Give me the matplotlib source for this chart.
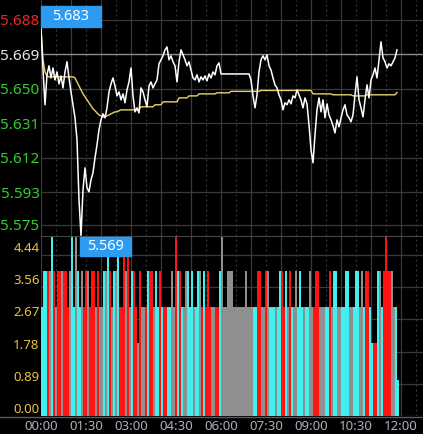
import matplotlib
matplotlib.use("Agg")
import matplotlib.pyplot as plt
import numpy as np
from matplotlib.lines import Line2D
from matplotlib.patches import Rectangle

# ---------------- data ----------------
step_min = 4  # minutes between samples
price = [5.683, 5.6604, 5.6412, 5.6577, 5.6627, 5.6560, 5.6615, 5.6549, 5.6593, 5.6527,
         5.6571, 5.6505, 5.6593, 5.6649, 5.6560, 5.6483, 5.6412, 5.6340, 5.6219, 5.5888,
         5.569, 5.5943, 5.6064, 5.5954, 5.5932, 5.5998, 5.6037, 5.6119, 5.6191, 5.6274,
         5.6329, 5.6362, 5.6340, 5.6395, 5.6483, 5.6527, 5.6560, 5.6516, 5.6461, 5.6483,
         5.6439, 5.6472, 5.6423, 5.6494, 5.6538, 5.6615, 5.6461, 5.6373, 5.6395, 5.6367,
         5.6505, 5.6483, 5.6439, 5.6401, 5.6516, 5.6538, 5.6505, 5.6527, 5.6549, 5.6638,
         5.6660, 5.6682, 5.6715, 5.6731, 5.6660, 5.6682, 5.6649, 5.6627, 5.6538, 5.6649,
         5.6715, 5.6687, 5.6660, 5.6627, 5.6649, 5.6604, 5.6560, 5.6549, 5.6577, 5.6538,
         5.6566, 5.6549, 5.6571, 5.6544, 5.6582, 5.6560, 5.6593, 5.6577, 5.6627, 5.6643,
         5.6582, 5.6582, 5.6582, 5.6582, 5.6582, 5.6582, 5.6582, 5.6582, 5.6582, 5.6582,
         5.6582, 5.6582, 5.6582, 5.6582, 5.6582, 5.6549, 5.6461, 5.6395, 5.6467, 5.6593,
         5.6660, 5.6682, 5.6660, 5.6687, 5.6627, 5.6604, 5.6560, 5.6522, 5.6505, 5.6467,
         5.6439, 5.6384, 5.6423, 5.6412, 5.6439, 5.6417, 5.6461, 5.6450, 5.6494, 5.6467,
         5.6439, 5.6395, 5.6450, 5.6417, 5.6301, 5.6164, 5.6092, 5.6246, 5.6384, 5.6450,
         5.6373, 5.6439, 5.6340, 5.6417, 5.6356, 5.6329, 5.6296, 5.6257, 5.6329, 5.6290,
         5.6340, 5.6384, 5.6412, 5.6356, 5.6340, 5.6318, 5.6356, 5.6467, 5.6566, 5.6439,
         5.6395, 5.6345, 5.6439, 5.6522, 5.6450, 5.6549, 5.6577, 5.6615, 5.6560, 5.6660,
         5.6759, 5.6671, 5.6649, 5.6615, 5.6638, 5.6627, 5.6649, 5.6671, 5.6715]

avg_price = ([5.683, 5.6660, 5.6593, 5.6571] + [5.6566] * 13 +
             [5.6560, 5.6538, 5.6516, 5.6494, 5.6472, 5.6456, 5.6439, 5.6423, 5.6406,
              5.6390, 5.6379, 5.6367, 5.6356, 5.6351, 5.6345, 5.6345, 5.6351, 5.6356,
              5.6362, 5.6367, 5.6373, 5.6373, 5.6379] +
             [5.6384] * 10 + [5.6401] * 7 + [5.6412] * 4 + [5.6428] * 8 +
             [5.6450] * 5 + [5.6461] * 5 + [5.6472] * 9 + [5.6478] * 7 +
             [5.6486] * 15 + [5.6491] * 26 + [5.6472] * 10 + [5.6467] * 10 +
             [5.6461] * 7 + [5.6467] * 15 + [5.6480])

volume = [3, 4, 4, 4, 4, 5, 4, 3, 4, 4,
          4, 4, 4, 3, 4, 5, 3, 5, 4, 3,
          4, 3, 4, 4, 3, 4, 4, 3, 4, 3,
          3, 4, 4, 5, 4, 3, 4, 4, 5, 3,
          3, 5, 4, 5, 3, 4, 4, 3, 2, 4,
          3, 3, 3, 4, 4, 4, 3, 4, 3, 4,
          3, 3, 3, 3, 3, 4, 3, 5, 4, 4,
          3, 3, 4, 4, 3, 4, 3, 3, 4, 4,
          3, 4, 3, 4, 3, 3, 3, 3, 3, 4,
          5, 3, 3, 4, 4, 4, 3, 3, 3, 3,
          3, 3, 4, 3, 3, 3, 3, 3, 4, 4,
          3, 3, 4, 4, 3, 3, 3, 3, 3, 4,
          4, 3, 4, 3, 4, 3, 3, 4, 3, 4,
          3, 3, 3, 3, 4, 3, 3, 4, 4, 3,
          3, 3, 3, 3, 4, 3, 4, 4, 3, 3,
          3, 3, 4, 4, 3, 3, 3, 4, 4, 3,
          4, 3, 4, 4, 3, 2, 2, 2, 4, 4,
          3, 4, 5, 4, 4, 4, 3, 3, 1]
# r = up, c = down, g = flat
vol_dir = ("cccrgcrgrr" "grrrgccgcc" "grrgrrrgrg" "gcgcrgcgcr" "rrgrgcrrgr"
           "ggrcrrgccr" "crrccggrcr" "cggcccgccg" "rcrrrggrrc" "gggggggggg"
           "ggggggccrr" "ggrgcccgcc" "rrcgrcggcc" "cgccggrrrg" "ggccrgccgg"
           "ccccggcccg" "gcrrccrrcg" "crrrrggcc")

price_ticks = [5.688, 5.669, 5.650, 5.631, 5.612, 5.593, 5.575]
price_tick_labels = ["5.688", "5.669", "5.650", "5.631", "5.612", "5.593", "5.575"]
prev_close = 5.669
vol_ticks = [0.0, 0.888, 1.776, 2.664, 3.552, 4.44]
vol_tick_labels = ["0.00", "0.89", "1.78", "2.67", "3.56", "4.44"]
time_ticks = [0, 90, 180, 270, 360, 450, 540, 630, 720]
time_labels = ["00:00", "01:30", "03:00", "04:30", "06:00", "07:30", "09:00", "10:30", "12:00"]

# ---------------- figure ----------------
W, H = 423, 434
plt.rcParams["font.family"] = ["Noto Sans", "DejaVu Sans"]
fig = plt.figure(figsize=(W / 100, H / 100), dpi=100, facecolor="black")


def rect(x0, y0, x1, y1):
    return [x0 / W, 1 - y1 / H, (x1 - x0) / W, (y1 - y0) / H]


ax1 = fig.add_axes(rect(41, 0, 423, 236))
ax2 = fig.add_axes(rect(41, 236, 423, 416))
for ax in (ax1, ax2):
    ax.set_facecolor("black")
    for s in ax.spines.values():
        s.set_visible(False)
    ax.set_xlim(0, 764)

t = np.arange(len(price)) * step_min
GRID = "#3a3a3a"

# vertical grid (solid each hour, dotted each half hour)
for m in range(0, 780, 30):
    for ax in (ax1, ax2):
        if m % 60 == 0:
            ax.axvline(m, color=GRID, lw=0.9, zorder=0)
        else:
            ax.axvline(m, color=GRID, lw=0.9, ls=(0, (1.5, 2.5)), zorder=0)

# ---- price panel ----
ax1.set_ylim(5.5688, 5.6990)
for v in price_ticks:
    if abs(v - prev_close) < 1e-9:
        ax1.axhline(v, color="#8c8c8c", lw=1.0, zorder=0.5)
    else:
        ax1.axhline(v, color=GRID, lw=0.9, zorder=0)
ax1.plot(t, avg_price, color="#e9d26a", lw=1.0, zorder=2)
ax1.plot(t, price, color="white", lw=1.1, zorder=3)
ax1.set_yticks(price_ticks)
ax1.set_yticklabels(price_tick_labels, fontsize=11)
ax1.tick_params(axis="y", length=0, pad=1)
ax1.set_xticks([])
lab_colors = ["#e8262b", "#e6e6e6"] + ["#33cc33"] * 5
for lab, col in zip(ax1.get_yticklabels(), lab_colors):
    lab.set_color(col)

# ---- volume panel ----
vmax = 180 / 36.3
ax2.set_ylim(0, vmax)
for v in vol_ticks:
    ax2.axhline(v, color=GRID, lw=0.9, zorder=0)
cmap = {"r": "#ff1414", "c": "#3ff0ee", "g": "#8f8f8f"}
ax2.bar(t, volume, width=step_min, align="edge",
        color=[cmap[d] for d in vol_dir], linewidth=0, zorder=2)
ax2.set_yticks(vol_ticks)
ax2.set_yticklabels(vol_tick_labels, fontsize=9.5, color="#e8c53a")
for lab in ax2.get_yticklabels():
    lab.set_va("bottom")
ax2.tick_params(axis="y", length=0, pad=1)
ax2.set_xticks(time_ticks)
ax2.set_xticklabels(time_labels, fontsize=9.5, color="#a8b0c0")
ax2.tick_params(axis="x", length=0, pad=3)
ax2.spines["top"].set_visible(True)
ax2.spines["top"].set_color("#454545")

# bottom axis line spanning the figure
fig.add_artist(Line2D([0, 1], [1 - 416.5 / H] * 2, transform=fig.transFigure,
                      color="#5a5a5a", lw=1.0))

# max / min marker boxes
BLUE = "#2e9bf2"
imax = int(np.argmax(price))
imin = int(np.argmin(price))
fig.add_artist(Rectangle((41 / W, 1 - 27 / H), 60 / W, 21 / H,
                         transform=fig.transFigure, color=BLUE, zorder=5))
fig.text(71 / W, 1 - 16.5 / H, f"{price[imax]:.3f}", color="white", fontsize=10.5,
         ha="center", va="center", zorder=6)
fig.add_artist(Rectangle((80 / W, 1 - 256 / H), 51 / W, 19 / H,
                         transform=fig.transFigure, color=BLUE, zorder=5))
fig.text(105.5 / W, 1 - 246.5 / H, f"{price[imin]:.3f}", color="white", fontsize=10.5,
         ha="center", va="center", zorder=6)

fig.savefig("out.png", dpi=100, facecolor="black")
